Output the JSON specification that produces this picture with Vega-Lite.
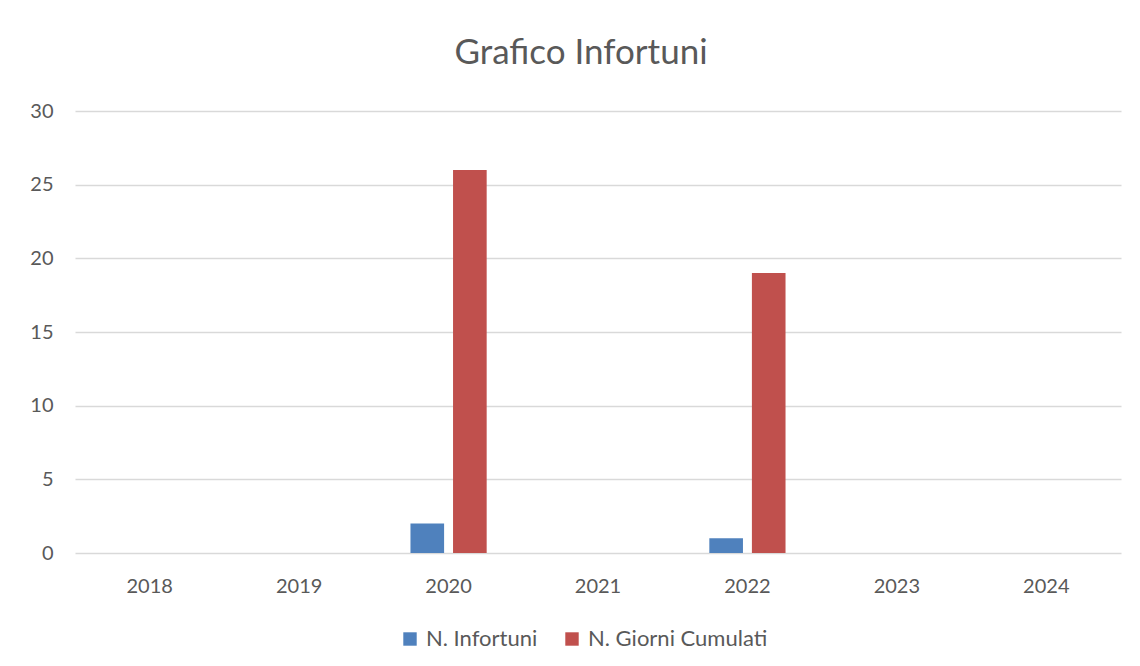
{
  "$schema": "https://vega.github.io/schema/vega-lite/v6.json",
  "width": 1046,
  "height": 442,
  "autosize": {"type": "none"},
  "padding": {"left": 75, "top": 111, "right": 19, "bottom": 113},
  "background": "white",
  "title": {
    "text": "Grafico Infortuni",
    "font": "Lato",
    "fontSize": 35,
    "fontWeight": "normal",
    "color": "#595959",
    "anchor": "middle",
    "dx": -17,
    "offset": 30
  },
  "data": {
    "values": [
      {"anno": "2018", "serie": "N. Infortuni", "valore": 0},
      {"anno": "2018", "serie": "N. Giorni Cumulati", "valore": 0},
      {"anno": "2019", "serie": "N. Infortuni", "valore": 0},
      {"anno": "2019", "serie": "N. Giorni Cumulati", "valore": 0},
      {"anno": "2020", "serie": "N. Infortuni", "valore": 2},
      {"anno": "2020", "serie": "N. Giorni Cumulati", "valore": 26},
      {"anno": "2021", "serie": "N. Infortuni", "valore": 0},
      {"anno": "2021", "serie": "N. Giorni Cumulati", "valore": 0},
      {"anno": "2022", "serie": "N. Infortuni", "valore": 1},
      {"anno": "2022", "serie": "N. Giorni Cumulati", "valore": 19},
      {"anno": "2023", "serie": "N. Infortuni", "valore": 0},
      {"anno": "2023", "serie": "N. Giorni Cumulati", "valore": 0},
      {"anno": "2024", "serie": "N. Infortuni", "valore": 0},
      {"anno": "2024", "serie": "N. Giorni Cumulati", "valore": 0}
    ]
  },
  "mark": {"type": "bar"},
  "encoding": {
    "x": {
      "field": "anno",
      "type": "nominal",
      "title": null,
      "scale": {"paddingInner": 0, "paddingOuter": 0},
      "axis": {
        "labelAngle": 0,
        "ticks": false,
        "domain": false,
        "grid": false,
        "labelPadding": 23,
        "labelFont": "Lato",
        "labelFontSize": 20,
        "labelColor": "#595959"
      }
    },
    "xOffset": {
      "field": "serie",
      "type": "nominal",
      "sort": ["N. Infortuni", "N. Giorni Cumulati"],
      "scale": {"paddingInner": 0.21, "paddingOuter": 0.86}
    },
    "y": {
      "field": "valore",
      "type": "quantitative",
      "title": null,
      "scale": {"domain": [0, 30], "nice": false},
      "axis": {
        "values": [0, 5, 10, 15, 20, 25, 30],
        "ticks": false,
        "domain": false,
        "gridColor": "#D9D9D9",
        "gridWidth": 1.5,
        "labelPadding": 22,
        "labelFont": "Lato",
        "labelFontSize": 20,
        "labelColor": "#595959"
      }
    },
    "color": {
      "field": "serie",
      "type": "nominal",
      "sort": ["N. Infortuni", "N. Giorni Cumulati"],
      "scale": {"domain": ["N. Infortuni", "N. Giorni Cumulati"], "range": ["#4F81BD", "#C0504D"]},
      "legend": {
        "title": null,
        "orient": "none",
        "direction": "horizontal",
        "legendX": 324,
        "legendY": 517,
        "symbolType": "square",
        "symbolSize": 180,
        "symbolStrokeWidth": 0,
        "labelFont": "Lato",
        "labelFontSize": 22,
        "labelLimit": 400,
        "labelColor": "#595959",
        "columnPadding": 23,
        "labelOffset": 5
      }
    }
  },
  "config": {"view": {"stroke": null}}
}
